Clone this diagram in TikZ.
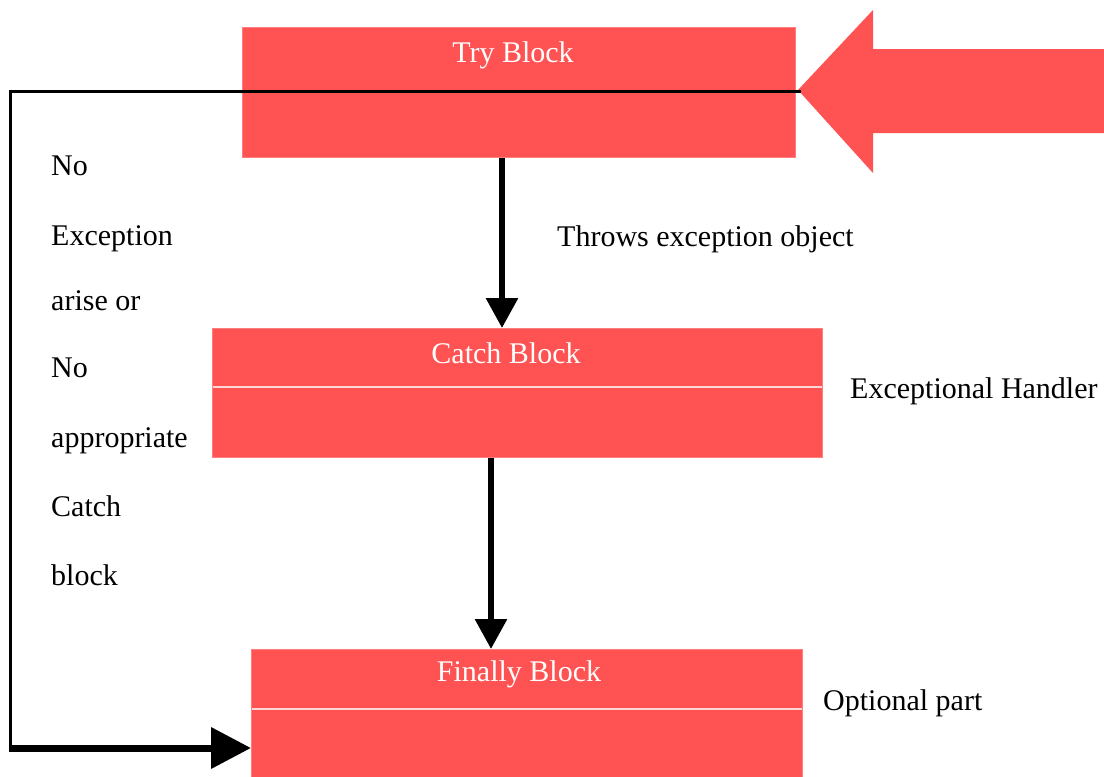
\documentclass[tikz,border=0pt]{standalone}
\usepackage{fontspec}
\setmainfont{Liberation Serif}
\usetikzlibrary{arrows.meta,calc}
\definecolor{boxred}{RGB}{255,82,82}
\definecolor{boxedge}{RGB}{255,125,125}
\definecolor{seprule}{RGB}{255,215,215}
\begin{document}
\begin{tikzpicture}[x=1pt,y=-1pt,
  block/.style={rectangle, fill=boxred, draw=boxedge, line width=1pt, anchor=north west, inner sep=0pt},
  blocktext/.style={anchor=base, text=white, font=\fontsize{30}{36}\selectfont, inner sep=0pt},
  plain/.style={anchor=base west, font=\fontsize{30}{36}\selectfont, inner sep=0pt},
  sepline/.style={draw=seprule, line width=1.8pt},
  flowarrow/.style={line width=6pt, -{Triangle[length=30pt,width=31pt]}},
  thinline/.style={line width=3pt}
]
\useasboundingbox (0,0) rectangle (1104,777);

% blocks
\node[block, minimum width=553pt, minimum height=130pt] (try) at (242,27) {};
\node[block, minimum width=610pt, minimum height=129pt] (catch) at (212,328) {};
\node[block, minimum width=551pt, minimum height=130pt] (finally) at (251,649) {};

% separators
\draw[sepline] (212.5,387) -- (821.5,387);
\draw[sepline] (251.5,709) -- (801.5,709);

% block titles
\node[blocktext] (trylbl) at (513,62) {Try Block};
\node[blocktext] (catchlbl) at (506,363) {Catch Block};
\node[blocktext] (finlbl) at (519,681) {Finally Block};

% big entry arrow
\fill[boxred] (798,90) -- (873,10) -- (873,49) -- (1104,49) -- (1104,133) -- (873,133) -- (873,173) -- cycle;
\coordinate (entry) at (799,91);
\coordinate (corner1) at (10,91);
\coordinate (corner2) at (10,748);

% flow arrows
\draw[flowarrow] (try.south -| 502,0) -- (catch.north -| 502,0);
\draw[flowarrow] (catch.south -| 491,0) -- (finally.north -| 491,0);

% bypass path
\draw[thinline, line cap=rect] (entry) -- (corner1) -- (corner2);
\draw[line width=7pt, -{Triangle[length=40pt,width=40pt]}] ($(corner2)+(-1.5,0)$) -- (finally.west |- corner2);

% left text
\node[plain] (t1) at (51,175) {No};
\node[plain] (t2) at (51,245) {Exception};
\node[plain] (t3) at (51,310) {arise or};
\node[plain] (t4) at (51,377) {No};
\node[plain] (t5) at (51,447) {appropriate};
\node[plain] (t6) at (51,516) {Catch};
\node[plain] (t7) at (51,585) {block};

% side labels
\node[plain] (throws) at (557,246) {Throws exception object};
\node[plain] (handler) at (850,398) {Exceptional Handler};
\node[plain] (optional) at (823,710) {Optional part};
\end{tikzpicture}
\end{document}
